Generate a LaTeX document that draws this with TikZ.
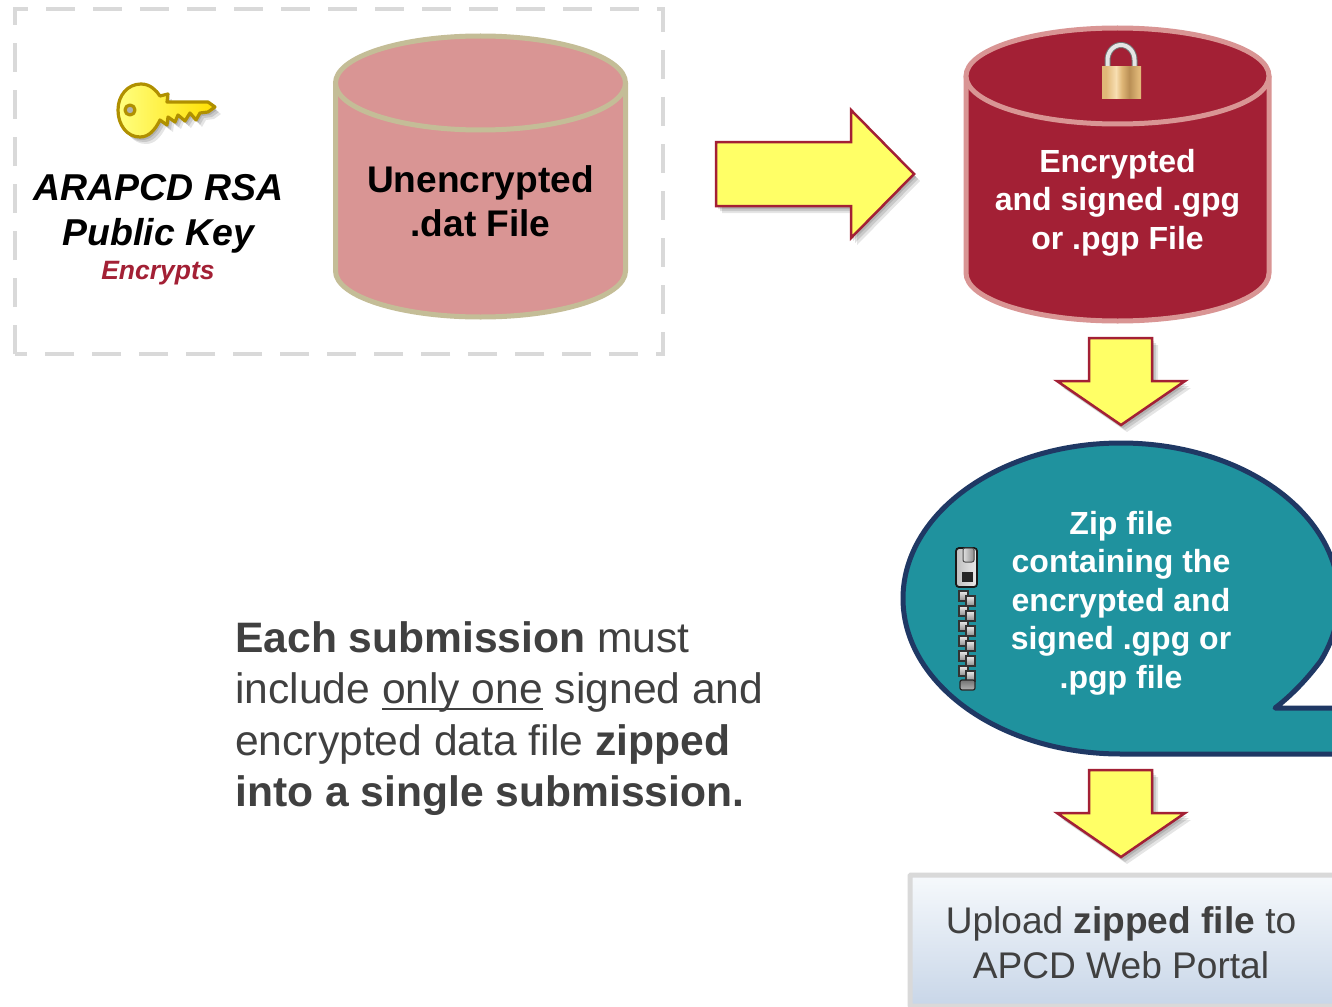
\documentclass[tikz,border=0pt]{standalone}
\usepackage{fontspec}
\setmainfont{Liberation Sans}
\usetikzlibrary{shadows}
\definecolor{wine}{HTML}{A32035}
\definecolor{rosy}{HTML}{D99594}
\definecolor{khaki}{HTML}{C4BD97}
\definecolor{teal}{HTML}{1F929E}
\definecolor{navy}{HTML}{1F3864}
\definecolor{ink}{HTML}{404040}
\definecolor{dashgrey}{HTML}{D9D9D9}
\definecolor{keygold}{HTML}{B09000}
\definecolor{lemon}{HTML}{FFFF66}
\definecolor{boxtop}{HTML}{F6F9FC}
\definecolor{boxlow}{HTML}{C8D6E8}
\definecolor{brassmid}{HTML}{E0B878}
\definecolor{brasslit}{HTML}{F8DFB2}
\definecolor{brassdim}{HTML}{B98F55}
\pgfdeclarehorizontalshading{brass}{100bp}{color(0bp)=(brassmid);color(30bp)=(brassmid);
  color(43bp)=(brasslit);color(50bp)=(brassmid);color(60bp)=(brassdim);color(72bp)=(brassmid);color(100bp)=(brassmid)}
\newcommand{\lowline}[1]{\setbox0\hbox{#1}\rlap{\rule[-6pt]{\wd0}{2pt}}\box0\relax}
\tikzset{
  softshadow/.style={
    drop shadow={shadow xshift=2pt,shadow yshift=-3pt,opacity=.12,fill=black},
    drop shadow={shadow xshift=4pt,shadow yshift=-5pt,opacity=.12,fill=black},
    drop shadow={shadow xshift=6pt,shadow yshift=-7pt,opacity=.10,fill=black}},
  blockarrow/.style={draw=wine,line width=2.5pt,fill=lemon,line join=miter,softshadow},
  drum/.style={line width=5pt},
  whitelabel/.style={text=white,font=\bfseries\fontsize{32}{38.5}\selectfont,align=center},
  bodytext/.style={text=ink,align=left,anchor=west,font=\fontsize{42.6}{51.5}\selectfont},
  tooth/.style={black!80,line width=1.2pt,top color=black!8,bottom color=black!45},
}
\begin{document}
\begin{tikzpicture}[x=1pt,y=-1pt]
\clip (0,0) rectangle (1332,1006);
\fill[white] (0,0) rectangle (1332,1006);
% dashed frame
\draw[dashgrey,line width=4.5pt,dash pattern=on 29pt off 18pt] (15,354)--(15,9)--(663,9)--(663,354)--cycle;
% clear drum
\draw[drum,draw=khaki,fill=rosy] (335.5,83)--(335.5,271) arc[start angle=180,end angle=0,x radius=145,y radius=46]--(625.5,83);
\draw[drum,draw=khaki,fill=rosy] (480.5,83) ellipse[x radius=145,y radius=47];
\node (clear) at (480.5,201) [font=\bfseries\fontsize{37.1}{44}\selectfont,align=center]{Unencrypted\\.dat File};
% key
\draw[keygold,line width=3.2pt,line join=round,left color=yellow!50!white,right color=yellow!75!orange,softshadow,even odd rule]
  (118,110) .. controls (118,95) and (128,84) .. (141,84) .. controls (150,84) and (156,90) .. (160,96)
  --(168,94)--(167,102)--(208,102)--(215,107)--(208,112)--(200,113)--(196,120)--(190,113)--(185,121)
  --(178,115)--(175,122)--(168,117)--(167,125)--(160,120) .. controls (155,130) and (149,137) .. (140,137)
  .. controls (127,137) and (118,125) .. (118,110)--cycle
  (130,110) circle[radius=5];
\node (keyname) at (158.5,213.5) [font=\bfseries\itshape\fontsize{37.4}{45}\selectfont,align=center]{ARAPCD RSA\\Public Key};
\node (keynote) at (158,273) [text=wine,font=\bfseries\itshape\fontsize{26.5}{32}\selectfont]{Encrypts};
% arrows
\draw[blockarrow] (716,142)--(851,142)--(851,110)--(914,174)--(851,238)--(851,206)--(716,206)--cycle;
\draw[blockarrow] (1089,338)--(1152,338)--(1152,381)--(1185,381)--(1121,425)--(1057,381)--(1089,381)--cycle;
\draw[blockarrow] (1089,770)--(1152,770)--(1152,813)--(1185,813)--(1121,857)--(1057,813)--(1089,813)--cycle;
% locked drum
\draw[drum,draw=rosy,fill=wine] (966,76)--(966,273) arc[start angle=180,end angle=0,x radius=151.5,y radius=48]--(1269,76);
\draw[drum,draw=rosy,fill=wine] (1117.5,76) ellipse[x radius=151.5,y radius=48];
\node (locked) at (1117.5,202.5) [whitelabel]{Encrypted\\and signed .gpg\\or .pgp File};
% padlock
\draw[black!55,line width=6pt] (1107.5,69)--(1107.5,60) arc[start angle=180,end angle=360,x radius=13.5,y radius=15]--(1134.5,69);
\draw[black!10,line width=4pt] (1107.5,69)--(1107.5,60) arc[start angle=180,end angle=360,x radius=13.5,y radius=15]--(1134.5,69);
\shade[shading=brass] (1102,67) rectangle (1141,99);
% bubble
\draw[line width=5pt,draw=navy,fill=teal,line join=round] (1121,754)
  arc[start angle=90,end angle=270,x radius=218,y radius=155.5]
  arc[start angle=270,end angle=383.5,x radius=218,y radius=155.5]
  .. controls (1308,678) and (1292,695) .. (1275,708)--(1345,708)--(1345,754)--cycle;
\node (zipnote) at (1121,603) [whitelabel]{Zip file\\containing the\\encrypted and\\signed .gpg or\\.pgp file};
% zipper
\foreach \i in {0,1,...,5}{
  \draw[tooth] (959,{591+\i*15}) rectangle (968,{601+\i*15});
  \draw[tooth] (966,{596+\i*15}) rectangle (975,{606+\i*15});
}
\draw[black!85,line width=1.2pt,top color=black!55,bottom color=black!30,rounded corners=2pt] (960,680) rectangle (975,690);
\draw[black!90,line width=1.8pt,left color=black!25,right color=black!8,rounded corners=3pt] (956,548) rectangle (977,587);
\draw[black!70,line width=1pt,left color=black!12,right color=black!45,rounded corners=2pt] (963,548) rectangle (974,562);
\fill[black!85] (962,572) rectangle (973,582);
% text block
\node (rule) at (231.7,718.5) [bodytext]{\textbf{Each submission} must\\include \lowline{only one} signed and\\encrypted data file \textbf{zipped}\\\textbf{into a single submission.}};
% portal box
\draw[line width=5pt,draw=dashgrey,top color=boxtop,bottom color=boxlow,rounded corners=1pt] (910,875) rectangle (1345,1006);
\node (portal) at (1121,942.5) [text=ink,align=center,font=\fontsize{37.1}{45}\selectfont]{Upload \textbf{zipped file} to\\APCD Web Portal};
\end{tikzpicture}
\end{document}
